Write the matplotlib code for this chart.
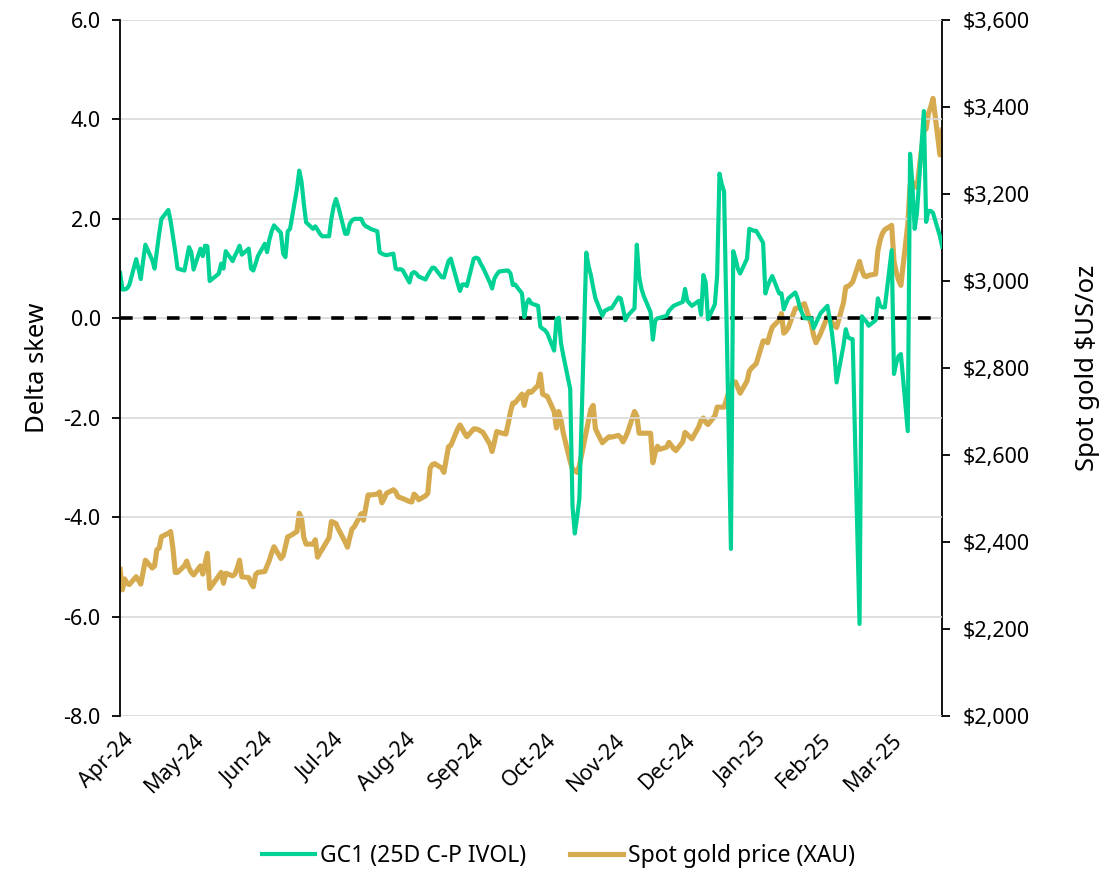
import matplotlib
matplotlib.use("Agg")
import matplotlib.pyplot as plt
import matplotlib.dates as mdates
from matplotlib.ticker import FuncFormatter, MultipleLocator
import pandas as pd

plt.rcParams['font.family'] = ['Noto Sans', 'DejaVu Sans']

# trading days shown on the chart
dates = pd.bdate_range('2024-04-29', '2025-04-22')

# GC1 25-delta call minus put implied vol (delta skew), one row per week
skew = [
    0.91, 0.58, 0.58, 0.60, 0.67,
    1.19, 1.00, 0.79, 1.15, 1.48,
    1.17, 1.00, 1.35, 1.70, 2.00,
    2.18, 1.95, 1.65, 1.35, 1.00,
    0.96, 1.20, 1.43, 1.33, 0.98,
    1.40, 1.25, 1.46, 1.45, 0.75,
    0.86, 0.90, 1.10, 1.00, 1.35,
    1.15, 1.26, 1.35, 1.46, 1.28,
    1.40, 1.00, 0.96, 1.10, 1.25,
    1.50, 1.33, 1.58, 1.75, 1.87,
    1.72, 1.30, 1.23, 1.75, 1.80,
    2.60, 2.97, 2.75, 2.30, 1.93,
    1.80, 1.85, 1.78, 1.70, 1.65,
    1.65, 2.00, 2.25, 2.40, 2.25,
    1.70, 1.70, 1.90, 1.97, 2.00,
    2.00, 1.90, 1.85, 1.83, 1.80,
    1.75, 1.33, 1.30, 1.28, 1.27,
    1.30, 1.00, 0.98, 0.99, 0.97,
    0.72, 0.90, 0.93, 0.90, 0.84,
    0.78, 0.87, 0.95, 1.02, 1.01,
    0.83, 0.82, 0.99, 1.15, 1.20,
    0.70, 0.55, 0.68, 0.68, 0.65,
    1.20, 1.22, 1.20, 1.10, 1.02,
    0.72, 0.60, 0.80, 0.88, 0.94,
    0.96, 0.96, 0.90, 0.67, 0.68,
    0.50, 0.02, 0.30, 0.38, 0.30,
    0.25, -0.17, -0.21, -0.24, -0.30,
    -0.65, -0.02, 0.01, -0.50, -0.75,
    -1.42, -3.78, -4.33, -4.00, -3.63,
    1.32, 1.05, 0.87, 0.62, 0.40,
    0.05, 0.15, 0.17, 0.20, 0.20,
    0.42, 0.40, 0.20, -0.04, 0.05,
    0.20, 1.48, 0.85, 0.60, 0.45,
    0.12, -0.43, -0.05, 0.00, 0.01,
    0.05, 0.15, 0.20, 0.25, 0.27,
    0.33, 0.59, 0.35, 0.30, 0.25,
    0.35, 0.07, 0.87, 0.72, -0.02,
    0.28, 0.87, 2.91, 2.70, 2.55,
    -4.64, 1.35, 1.20, 1.00, 0.90,
    1.20, 1.80, 1.78, 1.76, 1.76,
    1.52, 0.50, 0.65, 0.76, 0.85,
    0.50, 0.50, 0.18, 0.30, 0.40,
    0.52, 0.40, 0.22, 0.10, 0.00,
    0.00, -0.20, -0.10, 0.00, 0.10,
    0.25, 0.00, -0.30, -0.70, -1.29,
    -0.55, -0.22, -0.38, -0.41, -0.42,
    -6.15, 0.04, -0.02, -0.07, -0.15,
    -0.04, 0.40, 0.25, 0.22, 0.22,
    1.37, -1.12, -0.90, -0.76, -0.72,
    -2.27, 3.31, 2.70, 1.80, 2.12,
    4.17, 1.94, 2.16, 2.16, 2.12,
    1.65, 1.44,
]

# spot gold, US$/oz
gold = [
    2337, 2290, 2315, 2305, 2302,
    2320, 2312, 2303, 2330, 2358,
    2340, 2345, 2382, 2386, 2412,
    2420, 2424, 2385, 2330, 2330,
    2345, 2356, 2340, 2330, 2324,
    2345, 2326, 2350, 2374, 2293,
    2315, 2322, 2330, 2305, 2328,
    2322, 2326, 2340, 2358, 2320,
    2318, 2305, 2297, 2325, 2330,
    2332, 2345, 2358, 2375, 2389,
    2362, 2368, 2390, 2412, 2414,
    2424, 2466, 2455, 2410, 2395,
    2395, 2405, 2365, 2375, 2383,
    2410, 2447, 2445, 2442, 2430,
    2400, 2388, 2410, 2430, 2435,
    2465, 2450, 2480, 2508, 2508,
    2510, 2515, 2490, 2500, 2512,
    2520, 2515, 2504, 2502, 2500,
    2493, 2492, 2510, 2505, 2497,
    2506, 2512, 2570, 2578, 2580,
    2570, 2560, 2590, 2619, 2622,
    2660, 2669, 2660, 2650, 2642,
    2660, 2660, 2658, 2655, 2652,
    2625, 2608, 2630, 2654, 2652,
    2648, 2672, 2700, 2719, 2720,
    2740, 2714, 2738, 2746, 2744,
    2760, 2786, 2740, 2737, 2735,
    2700, 2662, 2700, 2680, 2650,
    2585, 2568, 2564, 2560, 2575,
    2654, 2680, 2705, 2714, 2660,
    2628, 2633, 2638, 2642, 2641,
    2645, 2640, 2630, 2640, 2652,
    2700, 2690, 2650, 2650, 2650,
    2650, 2582, 2605, 2620, 2613,
    2618, 2629, 2622, 2615, 2610,
    2630, 2652, 2647, 2642, 2637,
    2665, 2680, 2685, 2675, 2670,
    2690, 2710, 2710, 2710, 2710,
    2760, 2765, 2768, 2755, 2742,
    2770, 2793, 2800, 2805, 2810,
    2862, 2862, 2858, 2878, 2894,
    2910, 2925, 2880, 2885, 2893,
    2937, 2938, 2940, 2945, 2948,
    2900, 2875, 2858, 2868, 2879,
    2918, 2914, 2905, 2898, 2893,
    2950, 2986, 2988, 2992, 2998,
    3045, 3025, 3012, 3010, 3013,
    3016, 3070, 3095, 3110, 3118,
    3128, 3045, 3020, 3002, 2990,
    3130, 3220, 3228, 3220, 3215,
    3345, 3350, 3385, 3400, 3420,
    3290, 3347,
]

month_ticks = pd.date_range('2024-04-30', '2025-03-31', freq='ME')

green = '#00D295'
gold_col = '#D6AB4F'
fs = 15.5

fig = plt.figure(figsize=(11.02, 8.72), dpi=100)
ax = fig.add_axes([0.109, 0.179, 0.746, 0.798])
ax2 = ax.twinx()
ax.set_zorder(ax2.get_zorder() + 1)
ax.patch.set_visible(False)

ax2.plot(dates, gold, color=gold_col, lw=3.7, solid_joinstyle='round', label='Spot gold price (XAU)')
ax.plot(dates, skew, color=green, lw=3.0, solid_joinstyle='round', label='GC1 (25D C-P IVOL)')
ax.axhline(0, color='black', lw=2.6, ls=(0, (3.5, 3.0)), zorder=1)

ax.set_ylim(-8, 6)
ax2.set_ylim(2000, 3600)
ax.set_xlim(dates[0], dates[-1])

ax.yaxis.set_major_locator(MultipleLocator(2))
ax.yaxis.set_major_formatter(FuncFormatter(lambda v, p: f'{v:.1f}'))
ax2.yaxis.set_major_locator(MultipleLocator(200))
ax2.yaxis.set_major_formatter(FuncFormatter(lambda v, p: f'\\${v:,.0f}'))

ax.yaxis.grid(True, color='#d9d9d9', lw=1.2)
ax.set_axisbelow(True)

ax.set_xticks(month_ticks)
ax.xaxis.set_major_formatter(mdates.DateFormatter('%b-%y'))
plt.setp(ax.get_xticklabels(), rotation=45, ha='right', rotation_mode='anchor')

for a in (ax, ax2):
    a.spines['top'].set_visible(False)
    a.spines['bottom'].set_visible(False)
    a.spines['left'].set_color('black')
    a.spines['right'].set_color('black')
    a.spines['left'].set_linewidth(1.3)
    a.spines['right'].set_linewidth(1.3)
ax.spines['right'].set_visible(False)
ax2.spines['left'].set_visible(False)

ax.tick_params(axis='y', labelsize=fs, length=6, width=1.3, direction='out', pad=8)
ax2.tick_params(axis='y', labelsize=fs, length=6, width=1.3, direction='out', pad=9)
ax.tick_params(axis='x', labelsize=fs, length=0, pad=10)

ax.set_ylabel('Delta skew', fontsize=18.5, labelpad=10)
ax2.set_ylabel('Spot gold \\$US/oz', fontsize=18.5, labelpad=32)

h1, l1 = ax.get_legend_handles_labels()
h2, l2 = ax2.get_legend_handles_labels()
fig.legend(h1 + h2, l1 + l2, loc='center', bbox_to_anchor=(0.507, 0.018), ncol=2,
           frameon=False, fontsize=16.5, handlelength=2.3, columnspacing=1.9, handletextpad=0.25)

fig.savefig('out.png', dpi=100)
